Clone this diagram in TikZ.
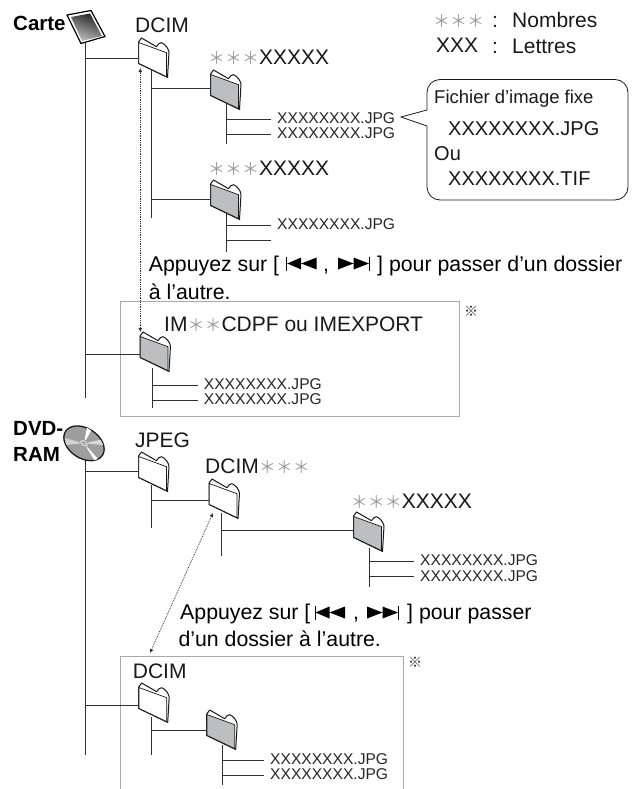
\documentclass[tikz,border=0pt]{standalone}
\usetikzlibrary{arrows.meta}
\usepackage{fontspec}
\setmainfont{Liberation Sans}
\newfontfamily\cjkf{Noto Sans CJK JP}
\newcommand{\gast}{{\cjkf\fontsize{17}{20}\selectfont\color{black!38}＊}}
\newcommand{\gastt}{\gast\gast\gast}
\definecolor{lin}{HTML}{303030}
\definecolor{fgray}{HTML}{BDBEC0}
\definecolor{boxg}{HTML}{A9A9A9}
\tikzset{
  x=1pt,y=-1pt,
  txt/.style={inner sep=0pt,anchor=base west,text=black!90,font=\fontsize{21}{24}\selectfont},
  bub/.style={txt,font=\fontsize{20}{24}\selectfont},
  msg/.style={txt,text=black,font=\fontsize{21.3}{24}\selectfont},
  bld/.style={inner sep=0pt,anchor=base west,text=black,font=\bfseries\fontsize{20.5}{24}\selectfont},
  filetxt/.style={inner ysep=0pt,inner xsep=6pt,anchor=west,text=black!85,text height=9pt,text depth=0pt,font=\fontsize{15.6}{18}\selectfont},
  conn/.style={draw=lin,line width=0.9pt},
  dots/.style={draw=lin,line width=0.8pt,densely dotted,{Latex[length=4pt,width=4pt]}-{Latex[length=4pt,width=4pt]}},
  foldbox/.style={inner sep=0pt,minimum width=0pt,minimum height=0pt,anchor=west},
  grayframe/.style={draw=boxg,line width=0.8pt},
  refmark/.style={inner sep=0pt,text=black!85,font=\cjkf\fontsize{14}{16}\selectfont},
}
% \folder{name}{x}{ytop}{ybranch}{fill}
\newcommand{\folder}[5]{%
  \begin{scope}[shift={(#2,#3)}]
    \filldraw[draw=black!90,line width=1pt,line join=round,fill=white]
      (0,0) -- (0,21.5) -- (29,35.5) -- (30.5,10)
      .. controls (30,7) and (27,2) .. (23,0.7)
      .. controls (21,0.3) and (19.5,2.5) .. (18,4.7) -- (3,-4) -- cycle;
    \filldraw[draw=black!90,line width=0.7pt,fill=#5]
      (0.2,0.5) -- (0.2,21.3) -- (28,34.6) -- (28,10.7) -- cycle;
  \end{scope}
  \node[foldbox] (#1) at (#2,#4) {};%
}
\newcommand{\skipback}[2]{%
  \begin{scope}[shift={(#1,#2)}]
    \draw[black,line width=0.7pt] (0,-1.5) -- (0,12.5);
    \fill[black] (0.5,5.5) -- (14.5,-0.5) -- (14.5,11.5) -- cycle (14.5,5.5) -- (30,-0.5) -- (30,11.5) -- cycle;
  \end{scope}}
\newcommand{\skipfwd}[2]{%
  \begin{scope}[shift={(#1,#2)}]
    \fill[black] (0,-0.5) -- (15.5,5.5) -- (0,11.5) -- cycle (15.5,-0.5) -- (31,5.5) -- (15.5,11.5) -- cycle;
    \draw[black,line width=0.7pt] (31.5,-1.5) -- (31.5,12.5);
  \end{scope}}
\begin{document}
\begin{tikzpicture}
\useasboundingbox (0,0) rectangle (637,789);
% gray frames
\draw[grayframe] (120,301.7) rectangle (459,416);
\draw[grayframe] (120,789) -- (120,656.7) -- (403,656.7) -- (403,789);
% folders
\folder{f1}{138.5}{42}{58}{white}
\folder{f2}{210.5}{74}{88}{fgray}
\folder{f3}{210.5}{184}{199}{fgray}
\folder{f4}{140}{336}{354}{fgray}
\folder{f5}{138.5}{456}{471}{white}
\folder{f6}{209}{483}{500.7}{white}
\folder{f7}{353.5}{516}{530.7}{fgray}
\folder{f8}{138.7}{687}{705}{white}
\folder{f9}{206.7}{714}{730}{fgray}
% trunk ends
\coordinate (a1) at (85.5,43);   \coordinate (a2) at (85.5,398);
\coordinate (b1) at (151,70);    \coordinate (b2) at (151,218);
\coordinate (c1) at (226,103);   \coordinate (c2) at (226,144);
\coordinate (d1) at (226,214);   \coordinate (d2) at (226,252);
\coordinate (e1) at (152.7,368); \coordinate (e2) at (152.7,408);
\coordinate (g1) at (85.5,460);  \coordinate (g2) at (85.5,755);
\coordinate (h1) at (151,485);   \coordinate (h2) at (151,528);
\coordinate (i1) at (221,513);   \coordinate (i2) at (221,555.7);
\coordinate (j1) at (369,548);   \coordinate (j2) at (369,587);
\coordinate (k1) at (151,717);   \coordinate (k2) at (151,755);
\coordinate (l1) at (222.3,745); \coordinate (l2) at (222.3,785);
\coordinate (m) at (271,240);
% file labels
\node[filetxt] (x1) at (271,119) {XXXXXXXX.JPG};
\node[filetxt] (x2) at (271,134) {XXXXXXXX.JPG};
\node[filetxt] (x3) at (271,225) {XXXXXXXX.JPG};
\node[filetxt] (x4) at (197.7,385) {XXXXXXXX.JPG};
\node[filetxt] (x5) at (197.7,400) {XXXXXXXX.JPG};
\node[filetxt] (x6) at (414,561) {XXXXXXXX.JPG};
\node[filetxt] (x7) at (414,576.7) {XXXXXXXX.JPG};
\node[filetxt] (x8) at (264,760) {XXXXXXXX.JPG};
\node[filetxt] (x9) at (264,775) {XXXXXXXX.JPG};
% connectors
\draw[conn] (a1) -- (a2);
\draw[conn] (b1) -- (b2);
\draw[conn] (c1) -- (c2);
\draw[conn] (d1) -- (d2);
\draw[conn] (e1) -- (e2);
\draw[conn] (g1) -- (g2);
\draw[conn] (h1) -- (h2);
\draw[conn] (i1) -- (i2);
\draw[conn] (j1) -- (j2);
\draw[conn] (k1) -- (k2);
\draw[conn] (l1) -- (l2);
\draw[conn] (a1 |- f1.west) -- (f1.west);
\draw[conn] (a1 |- f4.west) -- (f4.west);
\draw[conn] (b1 |- f2.west) -- (f2.west);
\draw[conn] (b1 |- f3.west) -- (f3.west);
\draw[conn] (c1 |- x1.west) -- (x1.west);
\draw[conn] (c1 |- x2.west) -- (x2.west);
\draw[conn] (d1 |- x3.west) -- (x3.west);
\draw[conn] (d1 |- m) -- (m);
\draw[conn] (e1 |- x4.west) -- (x4.west);
\draw[conn] (e1 |- x5.west) -- (x5.west);
\draw[conn] (g1 |- f5.west) -- (f5.west);
\draw[conn] (g1 |- f8.west) -- (f8.west);
\draw[conn] (h1 |- f6.west) -- (f6.west);
\draw[conn] (i1 |- f7.west) -- (f7.west);
\draw[conn] (j1 |- x6.west) -- (x6.west);
\draw[conn] (j1 |- x7.west) -- (x7.west);
\draw[conn] (k1 |- f9.west) -- (f9.west);
\draw[conn] (l1 |- x8.west) -- (x8.west);
\draw[conn] (l1 |- x9.west) -- (x9.west);
% dotted arrows
\coordinate (p1) at (140.3,68);  \coordinate (p2) at (140.3,332);
\coordinate (q1) at (213,513);   \coordinate (q2) at (150,653);
\draw[dots] (p1) -- (p2);
\draw[dots] (q1) -- (q2);
% card
\filldraw[draw=black,line width=1.2pt,line join=round,fill=white] (67,15) -- (91,10.5) -- (105,36.5) -- (81,43.5) -- cycle;
\shade[top color=black!85,bottom color=black!25,shading angle=-20] (71,17) -- (90,13.5) -- (102,36) -- (82,41) -- cycle;
% disc
\begin{scope}[shift={(84,443.3)},rotate=-33]
  \filldraw[draw=black!90,line width=1.3pt,fill=black!38] (0,0) ellipse (22 and 15);
  \fill[white] (0,0) -- (-6,-14.5) -- (-1,-14.8) -- cycle;
  \fill[white] (0,0) -- (20,5.5) -- (18,8.5) -- cycle;
  \fill[black!18] (0,0) -- (-19,6) -- (-14,11) -- cycle;
  \fill[black!15] (0,0) -- (12,-12) -- (17,-9) -- cycle;
  \filldraw[draw=black!45,line width=0.4pt,fill=black!20] (0,0) ellipse (5 and 3.4);
  \filldraw[draw=black!60,line width=0.4pt,fill=white] (0,0) ellipse (1.6 and 1.1);
\end{scope}
% callout
\draw[draw=black!90,line width=0.8pt,rounded corners=13pt] (427,126) -- (427,200) -- (628,200) -- (628,79.5) -- (427,79.5) [sharp corners] -- (427,110) -- (401,117) -- (427,126);
% labels
\node[bld] (t1) at (13,31) {Carte};
\node[bld] (t2) at (13,435) {DVD-};
\node[bld] (t3) at (13,461.7) {RAM};
\node[txt] (t4) at (135,33) {DCIM};
\node[txt] (t5) at (208,65) {\gastt XXXXX};
\node[txt] (t6) at (208,175) {\gastt XXXXX};
\node[txt] (t7) at (433,28) {\gastt};
\node[txt] (t8) at (492,28) {:};
\node[txt] (t9) at (512,28) {Nombres};
\node[txt] (t10) at (436,52.5) {XXX};
\node[txt] (t11) at (492,53.5) {:};
\node[txt] (t12) at (512,53.5) {Lettres};
\node[inner sep=0pt,anchor=base west,text=black!90,font=\fontsize{18.5}{22}\selectfont] (t13) at (434,104) {Fichier d’image fixe};
\node[bub] (t14) at (448,135.7) {XXXXXXXX.JPG};
\node[bub] (t15) at (434,160.7) {Ou};
\node[bub] (t16) at (448,185) {XXXXXXXX.TIF};
% first message
\node[msg] (u1) at (148.7,271.7) {Appuyez sur [};
\skipback{286.7}{258}
\node[msg] (u2) at (323,271.7) {,};
\skipfwd{338}{258}
\node[msg] (u3) at (377,271.7) {] pour passer d’un dossier};
\node[msg] (u4) at (148.7,299) {à l’autre.};
\node[txt] (u5) at (164,331.7) {IM\gast\gast CDPF ou IMEXPORT};
% second part
\node[txt] (v1) at (135,447) {JPEG};
\node[txt] (v2) at (205,473) {DCIM\gastt};
\node[txt] (v3) at (350.7,508) {\gastt XXXXX};
\node[msg] (v4) at (180,619.3) {Appuyez sur [};
\skipback{315}{607}
\node[msg] (v5) at (353,619.3) {,};
\skipfwd{367}{607}
\node[msg] (v6) at (407,619.3) {] pour passer};
\node[msg] (v7) at (178.3,646.7) {d’un dossier à l’autre.};
\node[txt] (v8) at (132.7,678) {DCIM};
% reference marks
\node[refmark] (w1) at (471,311) {※};
\node[refmark] (w2) at (415,662.7) {※};
\end{tikzpicture}
\end{document}
